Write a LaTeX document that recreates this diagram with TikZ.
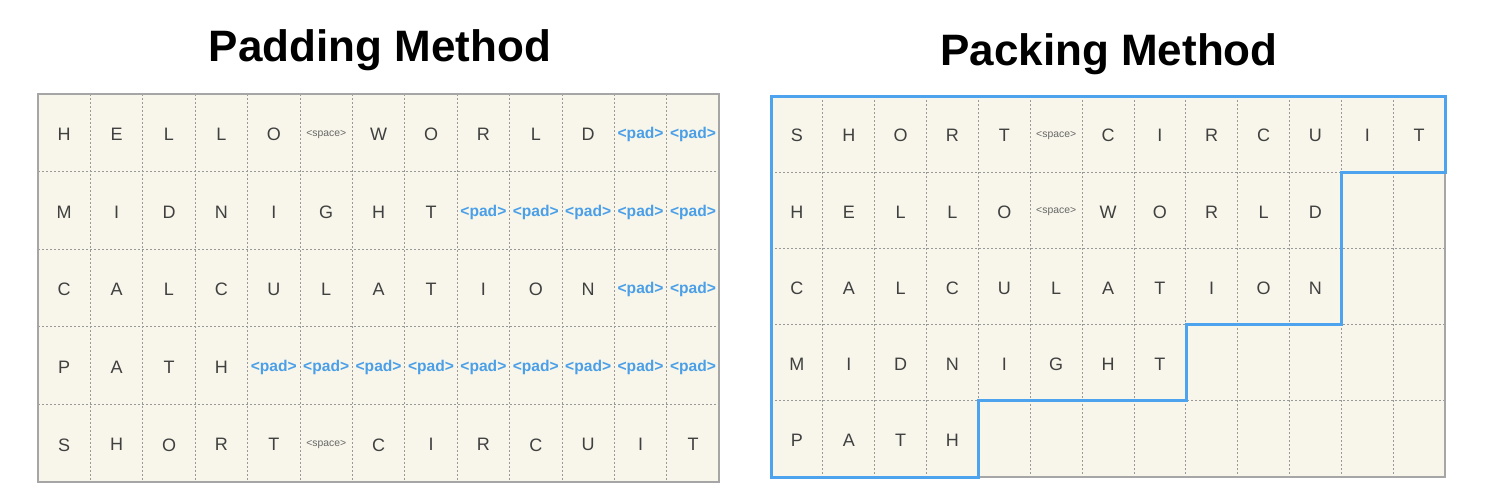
\documentclass[tikz,border=0pt]{standalone}
\usepackage{fontspec}
\setmainfont{Liberation Sans}
\usepackage{tikz}
\usetikzlibrary{calc}
\definecolor{cellbg}{HTML}{F8F6EA}
\definecolor{padblue}{HTML}{4A9FE8}
\definecolor{linkblue}{HTML}{4DA3EE}
\tikzset{
  letter/.style={text=black!75, font=\fontsize{9}{9}\selectfont, inner sep=0pt, yshift=-0.8pt},
  gridline/.style={gray!80, line width=0.4pt, dash pattern=on 1pt off 1pt},
  frame/.style={gray!70, line width=0.6pt},
  title/.style={font=\bfseries\fontsize{22}{22}\selectfont, anchor=base}
}
\newcommand{\pd}{\textcolor{padblue}{\bfseries\fontsize{7.8}{8}\selectfont <pad>}}
\newcommand{\spc}{\textcolor{black!60}{\fontsize{5.2}{6}\selectfont <space>}}
\begin{document}
\begin{tikzpicture}[x=0.5pt,y=-0.5pt]
\useasboundingbox (0,0) rectangle (1491,498);
% titles
\node[title] (padtitle) at (380,61) {Padding Method};
\node[title] (packtitle) at (1109,65) {Packing Method};
% padding grid
\fill[cellbg] (38,94) rectangle (719,482);
\foreach \i in {1,...,12}
  \draw[gridline] ({38+52.4*\i},94) -- ({38+52.4*\i},482);
\foreach \j in {1,...,4}
  \draw[gridline] (38,{94+77.6*\j}) -- (719,{94+77.6*\j});
\draw[frame] (38,94) rectangle (719,482);
\foreach \row/\items in {
  1/{H,E,L,L,O,\spc,W,O,R,L,D,\pd,\pd},
  2/{M,I,D,N,I,G,H,T,\pd,\pd,\pd,\pd,\pd},
  3/{C,A,L,C,U,L,A,T,I,O,N,\pd,\pd},
  4/{P,A,T,H,\pd,\pd,\pd,\pd,\pd,\pd,\pd,\pd,\pd},
  5/{S,H,O,R,T,\spc,C,I,R,C,U,I,T}}
  \foreach \t [count=\c] in \items
    \node[letter] (pad-\row-\c) at ({38+52.4*(\c-0.5)},{94+77.6*(\row-0.5)}) {\t};
% packing grid
\fill[cellbg] (771,96) rectangle (1445,477);
\foreach \i in {1,...,12}
  \draw[gridline] ({771+51.85*\i},96) -- ({771+51.85*\i},477);
\foreach \j in {1,...,4}
  \draw[gridline] (771,{96+76.2*\j}) -- (1445,{96+76.2*\j});
\draw[frame] (771,96) rectangle (1445,477);
\foreach \row/\items in {
  1/{S,H,O,R,T,\spc,C,I,R,C,U,I,T},
  2/{H,E,L,L,O,\spc,W,O,R,L,D},
  3/{C,A,L,C,U,L,A,T,I,O,N},
  4/{M,I,D,N,I,G,H,T},
  5/{P,A,T,H}}
  \foreach \t [count=\c] in \items
    \node[letter] (pack-\row-\c) at ({771+51.85*(\c-0.5)},{96+76.2*(\row-0.5)}) {\t};
% packed region outline
\draw[linkblue, line width=1.5pt, line join=miter]
  (771,96) -- (1445,96) -- (1445,172.2) -- (1341.6,172.2) -- (1341.6,324.6)
  -- (1186,324.6) -- (1186,400.8) -- (978.4,400.8) -- (978.4,477) -- (771,477) -- cycle;
\end{tikzpicture}
\end{document}
